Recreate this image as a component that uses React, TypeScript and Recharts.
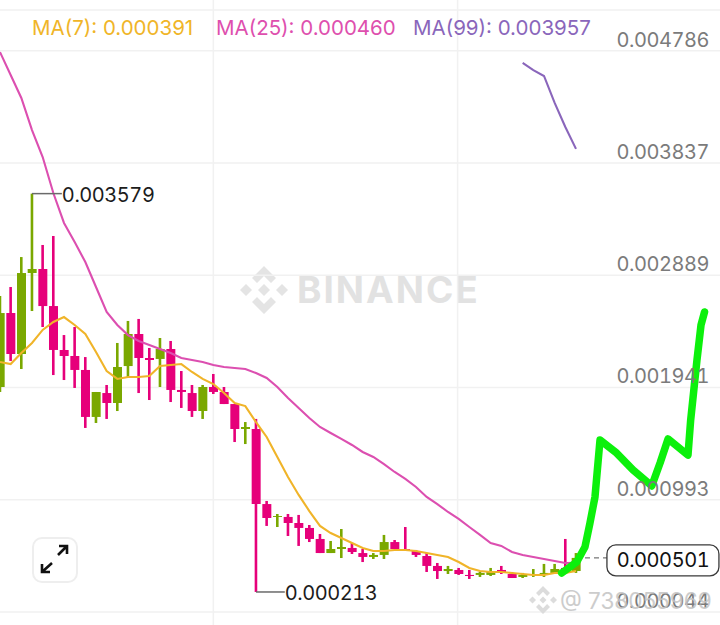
import React from "react";
import {
  Bar,
  CartesianGrid,
  Cell,
  ComposedChart,
  Line,
  ReferenceDot,
  ReferenceLine,
  XAxis,
  YAxis,
} from "recharts";

// candles, oldest first
const opens = [
  0.001945, 0.00257, 0.002224, 0.002908, 0.002942, 0.002629, 0.002258, 0.002207, 0.002089, 0.001692, 0.001894,
  0.00181, 0.002122, 0.002393, 0.00219, 0.002182, 0.002266, 0.00192, 0.001894, 0.001742, 0.001945, 0.001903,
  0.001801, 0.00159, 0.00159, 0.000956, 0.000847, 0.000847, 0.000796, 0.000754, 0.000661, 0.000542, 0.000576,
  0.000585, 0.000542, 0.000509, 0.000526, 0.000635, 0.000576, 0.000559, 0.000517, 0.000433, 0.00039, 0.000399,
  0.000357, 0.000357, 0.000357, 0.000399, 0.000365, 0.00034, 0.000357, 0.000357, 0.000374, 0.000416, 0.00039,
];
const closes = [
  0.00257, 0.002224, 0.002908, 0.002942, 0.002629, 0.002258, 0.002207, 0.002089, 0.001692, 0.001903, 0.00181,
  0.002114, 0.002393, 0.00219, 0.002173, 0.002266, 0.00192, 0.001903, 0.001742, 0.001945, 0.001903, 0.001801,
  0.00159, 0.001607, 0.000956, 0.000838, 0.000855, 0.000796, 0.000754, 0.000661, 0.000542, 0.000576, 0.000593,
  0.000551, 0.000509, 0.000526, 0.000635, 0.000576, 0.000568, 0.000526, 0.000433, 0.00039, 0.000407, 0.000365,
  0.000348, 0.000374, 0.00039, 0.000382, 0.000331, 0.000357, 0.000365, 0.000374, 0.000407, 0.000399, 0.000501,
];
const highs = [
  0.002714, 0.00279, 0.003043, 0.003579, 0.003145, 0.003221, 0.002384, 0.002452, 0.002198, 0.001903, 0.001962,
  0.002317, 0.002503, 0.00252, 0.002275, 0.002359, 0.002334, 0.00208, 0.001962, 0.001962, 0.002055, 0.001945,
  0.001801, 0.001649, 0.001675, 0.000982, 0.000872, 0.000872, 0.000864, 0.000779, 0.000703, 0.000644, 0.000745,
  0.000627, 0.000576, 0.000542, 0.000695, 0.000652, 0.000762, 0.000568, 0.000542, 0.000458, 0.000433, 0.000416,
  0.000399, 0.000382, 0.000416, 0.000433, 0.000382, 0.000374, 0.000407, 0.00045, 0.00045, 0.000661, 0.000542,
];
const lows = [
  0.001903, 0.002165, 0.002097, 0.002587, 0.002452, 0.002046, 0.002004, 0.001937, 0.001599, 0.001641, 0.001675,
  0.001742, 0.00203, 0.001894, 0.001835, 0.001945, 0.001818, 0.001768, 0.001692, 0.001675, 0.001886, 0.001801,
  0.00148, 0.001463, 0.000213, 0.000771, 0.000762, 0.000686, 0.000602, 0.000635, 0.000542, 0.000542, 0.0005,
  0.000534, 0.000466, 0.000492, 0.000492, 0.000576, 0.000568, 0.000509, 0.000382, 0.000323, 0.000365, 0.000357,
  0.000323, 0.00034, 0.000348, 0.000365, 0.000331, 0.000331, 0.00034, 0.00034, 0.000365, 0.000365, 0.000374,
];

const ma7 = [
  0.002156, 0.002139, 0.002232, 0.002317, 0.002427, 0.002494, 0.002536, 0.002469, 0.002393, 0.002241, 0.00208,
  0.002013, 0.00203, 0.00203, 0.002038, 0.002122, 0.002131, 0.002139, 0.002072, 0.002013, 0.00197, 0.001894,
  0.00181, 0.001784, 0.001649, 0.001523, 0.001354, 0.001185, 0.001033, 0.000897, 0.000771, 0.000711, 0.000669,
  0.000627, 0.000585, 0.000559, 0.000559, 0.000568, 0.000568, 0.000559, 0.000542, 0.000526, 0.000509, 0.000466,
  0.000416, 0.00039, 0.000382, 0.000382, 0.000374, 0.000365, 0.000357, 0.000357, 0.000374, 0.000374, 0.000391,
];
const ma25 = [
  0.004775, 0.004581, 0.004387, 0.004116, 0.003888, 0.003584, 0.003331, 0.00317, 0.003001, 0.00279, 0.002579,
  0.002469, 0.002384, 0.002334, 0.0023, 0.002266, 0.002232, 0.00219, 0.002173, 0.002156, 0.002131, 0.002114,
  0.002106, 0.002097, 0.002063, 0.002021, 0.001945, 0.001852, 0.001768, 0.001683, 0.001607, 0.001556, 0.001506,
  0.001455, 0.001396, 0.001354, 0.001294, 0.001227, 0.001168, 0.0011, 0.001016, 0.000956, 0.000889, 0.00083,
  0.000762, 0.000695, 0.000627, 0.000602, 0.000551, 0.000526, 0.000509, 0.000492, 0.000475, 0.000458, 0.00046,
];
// MA(99) only shows up for the last few candles, the rest is above the chart
const ma99 = [0.004683, 0.004623, 0.004573, 0.004345, 0.004142, 0.003957];
const ma99Start = 49;

// hand drawn green arrow on top of the screenshot
const handX = [
  52.66, 54.07, 54.84, 55.31, 55.78, 56.25, 57.81, 59.34, 61.1, 61.88, 62.63, 64.5, 64.75, 65.34, 65.72, 66.05,
];
const handPrice = [
  0.000374, 0.000466, 0.000593, 0.000796, 0.001016, 0.001497, 0.001387, 0.001244, 0.001109, 0.001303, 0.001506,
  0.00137, 0.001666, 0.002173, 0.002469, 0.002579,
];

const priceTicks = [0.000044, 0.000993, 0.001941, 0.002889, 0.003837, 0.004786];
const timeGrid = [20, 42.9];
const topEdge = 0.00513;
const lastPrice = 0.000501;
const highPrice = 0.003579;
const lowPrice = 0.000213;
const highIndex = 3;
const lowIndex = 24;
const lastIndex = 54;

const GREEN = "#7aa800";
const PINK = "#e6007a";
const GRID = "#f1f1f1";
const FONT = "Inter, sans-serif";
const NUM_STYLE = { fontVariantNumeric: "tabular-nums", letterSpacing: -0.45 };

const rows = opens.map((open, i) => ({
  i,
  open,
  close: closes[i],
  wick: [lows[i], highs[i]],
  body: [Math.min(open, closes[i]), Math.max(open, closes[i])],
  ma7: ma7[i],
  ma25: ma25[i],
  ma99: i >= ma99Start ? ma99[i - ma99Start] : null,
}));
const handRows = handX.map((i, k) => ({ i, price: handPrice[k] }));

const candleColor = (r: any) => (r.close >= r.open ? GREEN : PINK);

const Wick = (props: any) => (
  <rect
    x={props.x + props.width / 2 - 1.3}
    y={props.y}
    width={2.6}
    height={props.height}
    fill={candleColor(props.payload)}
  />
);

const PriceTick = (props: any) => (
  <text x={709} y={props.y - 11} textAnchor="end" dominantBaseline="central" fill="#7b7b7b" fontSize={20} fontFamily={FONT} style={NUM_STYLE}>
    {props.payload.value.toFixed(6)}
  </text>
);

const PriceNote = (props: any) => (
  <text x={props.cx} y={props.cy + 1} dominantBaseline="central" fill="#1c1c1c" fontSize={20} fontFamily={FONT} style={NUM_STYLE}>
    {props.text}
  </text>
);

const PriceTag = (props: any) => (
  <g>
    <rect x={props.cx} y={props.cy - 13} width={112} height={31} rx={9} fill="#fff" stroke="#3a3a3a" strokeWidth={1.3} />
    <text x={props.cx + 56} y={props.cy + 2} textAnchor="middle" dominantBaseline="central" fill="#111" fontSize={20} fontFamily={FONT} style={NUM_STYLE}>
      {lastPrice.toFixed(6)}
    </text>
  </g>
);

const BinanceMark = ({ x, y, size, color }: any) => (
  <svg style={{ position: "absolute", left: x - size, top: y - size }} width={size * 2} height={size * 2} viewBox="-24 -24 48 48">
    <g fill={color}>
      <path d="M0 -24 L12 -12 L7 -7 L0 -14 L-7 -7 L-12 -12 Z" />
      <path d="M0 24 L12 12 L7 7 L0 14 L-7 7 L-12 12 Z" />
      <path d="M-24 0 L-18 -6 L-12 0 L-18 6 Z" />
      <path d="M24 0 L18 -6 L12 0 L18 6 Z" />
      <path d="M0 -6 L6 0 L0 6 L-6 0 Z" />
    </g>
  </svg>
);

const legendItems = [
  { text: "MA(7): 0.000391", color: "#f0b528", left: 32 },
  { text: "MA(25): 0.000460", color: "#de4fae", left: 216 },
  { text: "MA(99): 0.003957", color: "#8a66bb", left: 413 },
];

const App = () => (
  <div style={{ position: "absolute", left: 0, top: 0, width: 720, height: 625, overflow: "hidden", background: "#fff", fontFamily: FONT }}>
    <BinanceMark x={264} y={290} size={24} color="#e4e4e4" />
    <div style={{ position: "absolute", left: 297, top: 267, fontSize: 37, lineHeight: "46px", fontWeight: 700, letterSpacing: 2, color: "#e2e2e2" }}>
      BINANCE
    </div>

    <div style={{ position: "absolute", left: 0, top: 0 }}>
      <ComposedChart width={720} height={625} data={rows} margin={{ top: 0, right: 0, bottom: 0, left: 0 }}>
        <CartesianGrid xAxisId="wick" stroke={GRID} strokeWidth={1.5} verticalValues={timeGrid} horizontalValues={priceTicks} />
        <XAxis xAxisId="wick" dataKey="i" type="number" domain={[0, 67.5]} hide />
        <XAxis xAxisId="body" dataKey="i" type="number" domain={[0, 67.5]} hide />
        <YAxis
          orientation="right"
          mirror
          width={1}
          domain={[-0.000066, 0.005215]}
          ticks={priceTicks}
          interval={0}
          axisLine={false}
          tickLine={false}
          tick={PriceTick}
        />
        <ReferenceLine xAxisId="wick" y={topEdge} stroke={GRID} strokeWidth={1.5} />
        <Bar xAxisId="wick" dataKey="wick" barSize={4} shape={Wick} isAnimationActive={false} />
        <Bar xAxisId="body" dataKey="body" barSize={9} isAnimationActive={false}>
          {rows.map((r) => (
            <Cell key={r.i} fill={candleColor(r)} />
          ))}
        </Bar>
        <Line xAxisId="wick" dataKey="ma25" stroke="#dc4fb0" strokeWidth={2.1} dot={false} activeDot={false} isAnimationActive={false} />
        <Line xAxisId="wick" dataKey="ma7" stroke="#f0b429" strokeWidth={2.1} dot={false} activeDot={false} isAnimationActive={false} />
        <Line xAxisId="wick" dataKey="ma99" stroke="#8a66bb" strokeWidth={2.1} dot={false} activeDot={false} isAnimationActive={false} />

        <ReferenceLine xAxisId="wick" segment={[{ x: highIndex, y: highPrice }, { x: 5.8, y: highPrice }]} stroke="#6a6a6a" strokeWidth={1.5} />
        <ReferenceDot xAxisId="wick" x={5.8} y={highPrice} r={0} shape={(p: any) => <PriceNote {...p} text={highPrice.toFixed(6)} />} />
        <ReferenceLine xAxisId="wick" segment={[{ x: lowIndex, y: lowPrice }, { x: 26.7, y: lowPrice }]} stroke="#6a6a6a" strokeWidth={1.5} />
        <ReferenceDot xAxisId="wick" x={26.7} y={lowPrice} r={0} shape={(p: any) => <PriceNote {...p} text={lowPrice.toFixed(6)} />} />

        <ReferenceLine xAxisId="wick" segment={[{ x: lastIndex, y: lastPrice }, { x: 56.9, y: lastPrice }]} stroke="#555" strokeDasharray="5 4" />
        <ReferenceDot xAxisId="wick" x={56.9} y={lastPrice} r={0} shape={PriceTag} />

        <Line
          xAxisId="wick"
          data={handRows}
          dataKey="price"
          stroke="#0cf00c"
          strokeWidth={7.5}
          strokeLinecap="round"
          strokeLinejoin="round"
          dot={false}
          activeDot={false}
          isAnimationActive={false}
        />
      </ComposedChart>
    </div>

    {legendItems.map((l) => (
      <div key={l.text} style={{ position: "absolute", left: l.left, top: 15, fontSize: 20.5, lineHeight: "26px", color: l.color, whiteSpace: "nowrap" }}>
        {l.text}
      </div>
    ))}

    <BinanceMark x={543} y={600} size={14} color="#dcdcdc" />
    <div style={{ position: "absolute", left: 560, top: 586, fontSize: 22.5, lineHeight: "30px", color: "#c4c4c4", whiteSpace: "nowrap", opacity: 0.85 }}>
      @ 738055969
    </div>

    <div style={{ position: "absolute", left: 32, top: 537, width: 42, height: 42, border: "2px solid #eeeeee", borderRadius: 10 }}>
      <svg width={42} height={42} viewBox="0 0 42 42" fill="none" stroke="#111" strokeWidth={2.6}>
        <path d="M24 16 L33 7 M25 7 L33 7 L33 15" />
        <path d="M18 24 L8 33 M8 25 L8 33 L16 33" />
      </svg>
    </div>
  </div>
);

export default App;
